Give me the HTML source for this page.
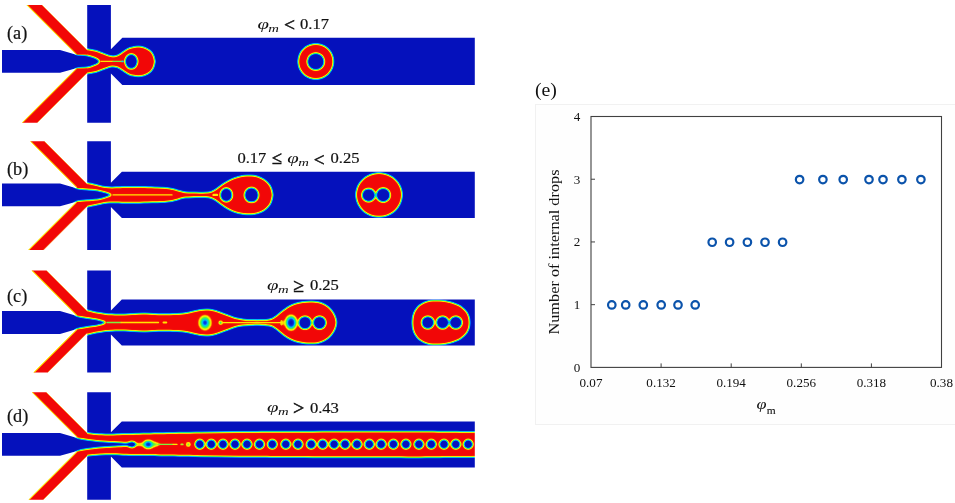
<!DOCTYPE html>
<html lang="en"><head><meta charset="utf-8"><title>Internal drops vs. flow rate ratio</title>
<style>
html,body{margin:0;padding:0;background:#fff;}
body{width:955px;height:503px;overflow:hidden;font-family:"Liberation Serif","DejaVu Serif",serif;}
svg{display:block;font-family:"Liberation Serif","DejaVu Serif",serif;}
</style></head><body>
<svg width="955" height="503" viewBox="0 0 955 503">
<defs>
<clipPath id="dom"><path d="M2,50 L60,50 L75.5,54.4 L89,54.4 L89,68.4 L75.5,68.4 L60,72.8 L2,72.8 Z"/><path d="M87.2,4.9 L110.9,4.9 L110.9,122.7 L87.2,122.7 Z"/><path d="M109.9,50.3 L122.35,37.85 L474.8,37.85 L474.8,84.95 L122.35,84.95 L109.9,72.5 Z"/><path d="M2,183.6 L60,183.6 L75.5,187.9 L89,187.9 L89,201.9 L75.5,201.9 L60,206.2 L2,206.2 Z"/><path d="M87.2,141.3 L110.9,141.3 L110.9,250 L87.2,250 Z"/><path d="M109.9,183.8 L121.9,171.8 L474.8,171.8 L474.8,218 L121.9,218 L109.9,206 Z"/><path d="M2,311.1 L60,311.1 L75.5,315.5 L89,315.5 L89,329.5 L75.5,329.5 L60,333.9 L2,333.9 Z"/><path d="M87.2,270.5 L110.9,270.5 L110.9,372.6 L87.2,372.6 Z"/><path d="M109.9,311.4 L121.8,299.5 L474.8,299.5 L474.8,345.5 L121.8,345.5 L109.9,333.6 Z"/><path d="M2,433 L60,433 L75.5,437.4 L89,437.4 L89,451.4 L75.5,451.4 L60,455.8 L2,455.8 Z"/><path d="M87.2,392.3 L110.9,392.3 L110.9,499.7 L87.2,499.7 Z"/><path d="M109.9,433.3 L121.8,421.4 L474.8,421.4 L474.8,467.4 L121.8,467.4 L109.9,455.5 Z"/></clipPath>
<clipPath id="domB"><path d="M26.5,4.9 L42,4.9 L88.1,51 L88.1,55.3 L76.9,55.3 Z"/><path d="M21.9,122.7 L37.3,122.7 L88.1,71.9 L88.1,67.5 L77.1,67.5 Z"/><path d="M30.1,141.3 L44.5,141.3 L88.1,184.9 L88.1,188.8 L77.6,188.8 Z"/><path d="M28.2,250 L43.6,250 L88.1,205.5 L88.1,201 L77.2,201 Z"/><path d="M31.5,270.5 L46.5,270.5 L88.1,312.1 L88.1,316.4 L77.4,316.4 Z"/><path d="M33.4,372.6 L47.8,372.6 L88.1,332.3 L88.1,328.6 L77.4,328.6 Z"/><path d="M31.8,392.3 L46.3,392.3 L88.1,434.1 L88.1,438.3 L77.8,438.3 Z"/><path d="M28.5,499.7 L43.3,499.7 L88.1,454.9 L88.1,450.5 L77.7,450.5 Z"/></clipPath>
<radialGradient id="rb"><stop offset="0" stop-color="#141414"/><stop offset="0.18" stop-color="#242424"/><stop offset="0.33" stop-color="#4c4c4c"/><stop offset="0.48" stop-color="#666666"/><stop offset="0.62" stop-color="#808080"/><stop offset="0.76" stop-color="#9e9e9e"/><stop offset="0.9" stop-color="#c2c2c2"/><stop offset="1" stop-color="#ffffff"/></radialGradient>
<radialGradient id="rb3"><stop offset="0" stop-color="#141414"/><stop offset="0.36" stop-color="#1f1f1f"/><stop offset="0.5" stop-color="#474747"/><stop offset="0.62" stop-color="#6b6b6b"/><stop offset="0.74" stop-color="#8a8a8a"/><stop offset="0.87" stop-color="#b2b2b2"/><stop offset="1" stop-color="#ffffff"/></radialGradient>
<radialGradient id="rb2"><stop offset="0" stop-color="#0f0f0f"/><stop offset="0.3" stop-color="#1f1f1f"/><stop offset="0.48" stop-color="#424242"/><stop offset="0.64" stop-color="#616161"/><stop offset="0.8" stop-color="#7a7a7a"/><stop offset="1" stop-color="#858585"/></radialGradient>
<filter id="jet" x="0" y="0" width="480" height="503" filterUnits="userSpaceOnUse" color-interpolation-filters="sRGB">
<feGaussianBlur stdDeviation="0.9"/>
<feComponentTransfer>
<feFuncR type="table" tableValues="0.02 0.02 0.00 0.00 0.05 0.35 0.80 1.00 1.00 0.96 0.95"/>
<feFuncG type="table" tableValues="0.07 0.09 0.30 0.72 0.90 0.95 0.97 0.92 0.50 0.08 0.03"/>
<feFuncB type="table" tableValues="0.74 0.76 0.92 1.00 0.65 0.25 0.05 0.00 0.00 0.03 0.03"/>
</feComponentTransfer>
</filter>
</defs>
<rect width="955" height="503" fill="#fff"/>
<g clip-path="url(#domB)"><g filter="url(#jet)">
<rect x="0" y="0" width="480" height="503" fill="#000"/>
<g fill="#fff"><path d="M20.7,-0.1 L41,-0.1 L91.2,50.1 L91.2,58.4 L79.2,58.4 Z"/><path d="M16.1,127.7 L36.3,127.7 L91.2,72.8 L91.2,64.4 L79.4,64.4 Z"/><path d="M24.3,136.3 L43.5,136.3 L91.2,184 L91.2,191.9 L79.9,191.9 Z"/><path d="M22.4,255 L42.6,255 L91.2,206.4 L91.2,197.9 L79.5,197.9 Z"/><path d="M25.7,265.5 L45.5,265.5 L91.2,311.2 L91.2,319.5 L79.7,319.5 Z"/><path d="M27.6,377.6 L46.8,377.6 L91.2,333.2 L91.2,325.5 L79.7,325.5 Z"/><path d="M26,387.3 L45.3,387.3 L91.2,433.2 L91.2,441.4 L80.1,441.4 Z"/><path d="M22.7,504.7 L42.3,504.7 L91.2,455.8 L91.2,447.4 L80,447.4 Z"/></g>
</g>
<g stroke="#ffe600" stroke-width="1.7" opacity="0.9"><line x1="26.5" y1="4.9" x2="76" y2="54.4"/><line x1="21.9" y1="122.7" x2="76.2" y2="68.4"/><line x1="30.1" y1="141.3" x2="76.7" y2="187.9"/><line x1="28.2" y1="250" x2="76.3" y2="201.9"/><line x1="31.5" y1="270.5" x2="76.5" y2="315.5"/><line x1="33.4" y1="372.6" x2="76.5" y2="329.5"/><line x1="31.8" y1="392.3" x2="76.9" y2="437.4"/><line x1="28.5" y1="499.7" x2="76.8" y2="451.4"/></g>
<g stroke="#ffd800" stroke-width="1.0" opacity="0.75"><line x1="42" y1="4.9" x2="87.2" y2="50.1"/><line x1="37.3" y1="122.7" x2="87.2" y2="72.8"/><line x1="44.5" y1="141.3" x2="87.2" y2="184"/><line x1="43.6" y1="250" x2="87.2" y2="206.4"/><line x1="46.5" y1="270.5" x2="87.2" y2="311.2"/><line x1="47.8" y1="372.6" x2="87.2" y2="333.2"/><line x1="46.3" y1="392.3" x2="87.2" y2="433.2"/><line x1="43.3" y1="499.7" x2="87.2" y2="455.8"/></g>
</g>
<g clip-path="url(#dom)"><g filter="url(#jet)">
<rect x="0" y="0" width="480" height="503" fill="#000"/>
<g fill="#fff"><path d="M62,54.4 L62,35.4 L80,42.3 L87,49.3 C87.83,49.42 90.25,49.68 92,50 C93.75,50.32 95.3,50.5 97.5,51.2 C99.7,51.9 102.83,53.35 105.2,54.2 C107.57,55.05 109.77,56.05 111.7,56.3 C113.63,56.55 115.08,56.3 116.8,55.7 C118.52,55.1 120.05,53.88 122,52.7 C123.95,51.52 126.67,49.52 128.5,48.6 C130.33,47.68 131.42,47.53 133,47.2 C134.58,46.87 136.17,46.57 138,46.6 C139.83,46.63 142.08,46.8 144,47.4 C145.92,48 147.95,48.95 149.5,50.2 C151.05,51.45 152.38,53.03 153.3,54.9 C154.22,56.77 154.72,60.32 155,61.4 C154.72,62.48 154.22,66.03 153.3,67.9 C152.38,69.77 151.05,71.35 149.5,72.6 C147.95,73.85 145.92,74.8 144,75.4 C142.08,76 139.83,76.17 138,76.2 C136.17,76.23 134.58,75.93 133,75.6 C131.42,75.27 130.33,75.12 128.5,74.2 C126.67,73.28 123.95,71.28 122,70.1 C120.05,68.92 118.52,67.7 116.8,67.1 C115.08,66.5 113.63,66.25 111.7,66.5 C109.77,66.75 107.57,67.75 105.2,68.6 C102.83,69.45 99.7,70.9 97.5,71.6 C95.3,72.3 93.75,72.48 92,72.8 C90.25,73.12 87.83,73.38 87,73.5 L80,80.5 L62,87.4 L62,68.4 Z"/><circle cx="315.8" cy="61.5" r="17.6" fill="#fff"/><path d="M62,187.9 L62,168.9 L80,176.7 L87,183.1 C88,183.3 90.83,183.83 93,184.3 C95.17,184.77 97.83,185.45 100,185.9 C102.17,186.35 104.17,186.75 106,187 C107.83,187.25 109,187.35 111,187.4 C113,187.45 115.67,187.37 118,187.3 C120.33,187.23 121.33,187.03 125,187 C128.67,186.97 135,187.02 140,187.1 C145,187.18 150.67,187.35 155,187.5 C159.33,187.65 162.83,187.7 166,188 C169.17,188.3 171.67,188.78 174,189.3 C176.33,189.82 178.17,190.62 180,191.1 C181.83,191.58 183,191.95 185,192.2 C187,192.45 189.5,192.52 192,192.6 C194.5,192.68 197.5,192.7 200,192.7 C202.5,192.7 205,192.8 207,192.6 C209,192.4 210.33,192.17 212,191.5 C213.67,190.83 215.17,189.83 217,188.6 C218.83,187.37 220.83,185.55 223,184.1 C225.17,182.65 227.5,181.1 230,179.9 C232.5,178.7 235.33,177.62 238,176.9 C240.67,176.18 243.33,175.8 246,175.6 C248.67,175.4 251.5,175.32 254,175.7 C256.5,176.08 258.83,176.87 261,177.9 C263.17,178.93 265.33,180.32 267,181.9 C268.67,183.48 270.03,185.23 271,187.4 C271.97,189.57 272.5,193.65 272.8,194.9 C272.5,196.15 271.97,200.23 271,202.4 C270.03,204.57 268.67,206.32 267,207.9 C265.33,209.48 263.17,210.87 261,211.9 C258.83,212.93 256.5,213.72 254,214.1 C251.5,214.48 248.67,214.4 246,214.2 C243.33,214 240.67,213.62 238,212.9 C235.33,212.18 232.5,211.1 230,209.9 C227.5,208.7 225.17,207.15 223,205.7 C220.83,204.25 218.83,202.43 217,201.2 C215.17,199.97 213.67,198.97 212,198.3 C210.33,197.63 209,197.4 207,197.2 C205,197 202.5,197.1 200,197.1 C197.5,197.1 194.5,197.12 192,197.2 C189.5,197.28 187,197.35 185,197.6 C183,197.85 181.83,198.22 180,198.7 C178.17,199.18 176.33,199.98 174,200.5 C171.67,201.02 169.17,201.5 166,201.8 C162.83,202.1 159.33,202.15 155,202.3 C150.67,202.45 145,202.62 140,202.7 C135,202.78 128.67,202.83 125,202.8 C121.33,202.77 120.33,202.57 118,202.5 C115.67,202.43 113,202.35 111,202.4 C109,202.45 107.83,202.55 106,202.8 C104.17,203.05 102.17,203.45 100,203.9 C97.83,204.35 95.17,205.03 93,205.5 C90.83,205.97 88,206.5 87,206.7 L80,213.1 L62,220.9 L62,201.9 Z"/><ellipse cx="379" cy="194.9" rx="23" ry="21.9" fill="#fff"/><path d="M62,315.5 L62,296.5 L80,304.1 L87,310.3 C88,310.53 90.83,311.25 93,311.7 C95.17,312.15 97.83,312.63 100,313 C102.17,313.37 104.17,313.68 106,313.9 C107.83,314.12 109,314.2 111,314.3 C113,314.4 115.67,314.48 118,314.5 C120.33,314.52 122.5,314.5 125,314.4 C127.5,314.3 130.17,314.05 133,313.9 C135.83,313.75 139.17,313.53 142,313.5 C144.83,313.47 147.33,313.58 150,313.7 C152.67,313.82 155.33,314.1 158,314.2 C160.67,314.3 163,314.33 166,314.3 C169,314.27 172.83,314.18 176,314 C179.17,313.82 182.17,313.62 185,313.2 C187.83,312.78 190.5,312.02 193,311.5 C195.5,310.98 197.83,310.42 200,310.1 C202.17,309.78 204,309.6 206,309.6 C208,309.6 209.83,309.68 212,310.1 C214.17,310.52 216.5,311.27 219,312.1 C221.5,312.93 224.33,314.1 227,315.1 C229.67,316.1 232.33,317.37 235,318.1 C237.67,318.83 240.17,319.17 243,319.5 C245.83,319.83 248.83,320 252,320.1 C255.17,320.2 259.17,320.2 262,320.1 C264.83,320 267.17,319.82 269,319.5 C270.83,319.18 271.67,318.87 273,318.2 C274.33,317.53 275.5,316.65 277,315.5 C278.5,314.35 280.17,312.73 282,311.3 C283.83,309.87 285.83,308.17 288,306.9 C290.17,305.63 292.5,304.53 295,303.7 C297.5,302.87 300.33,302.28 303,301.9 C305.67,301.52 308.33,301.33 311,301.4 C313.67,301.47 316.5,301.65 319,302.3 C321.5,302.95 323.92,303.98 326,305.3 C328.08,306.62 329.97,308.33 331.5,310.2 C333.03,312.07 334.35,314.45 335.2,316.5 C336.05,318.55 336.37,321.5 336.6,322.5 C336.37,323.5 336.05,326.45 335.2,328.5 C334.35,330.55 333.03,332.93 331.5,334.8 C329.97,336.67 328.08,338.38 326,339.7 C323.92,341.02 321.5,342.05 319,342.7 C316.5,343.35 313.67,343.53 311,343.6 C308.33,343.67 305.67,343.48 303,343.1 C300.33,342.72 297.5,342.13 295,341.3 C292.5,340.47 290.17,339.37 288,338.1 C285.83,336.83 283.83,335.13 282,333.7 C280.17,332.27 278.5,330.65 277,329.5 C275.5,328.35 274.33,327.47 273,326.8 C271.67,326.13 270.83,325.82 269,325.5 C267.17,325.18 264.83,325 262,324.9 C259.17,324.8 255.17,324.8 252,324.9 C248.83,325 245.83,325.17 243,325.5 C240.17,325.83 237.67,326.17 235,326.9 C232.33,327.63 229.67,328.9 227,329.9 C224.33,330.9 221.5,332.07 219,332.9 C216.5,333.73 214.17,334.48 212,334.9 C209.83,335.32 208,335.4 206,335.4 C204,335.4 202.17,335.22 200,334.9 C197.83,334.58 195.5,334.02 193,333.5 C190.5,332.98 187.83,332.22 185,331.8 C182.17,331.38 179.17,331.18 176,331 C172.83,330.82 169,330.73 166,330.7 C163,330.67 160.67,330.7 158,330.8 C155.33,330.9 152.67,331.18 150,331.3 C147.33,331.42 144.83,331.53 142,331.5 C139.17,331.47 135.83,331.25 133,331.1 C130.17,330.95 127.5,330.7 125,330.6 C122.5,330.5 120.33,330.48 118,330.5 C115.67,330.52 113,330.6 111,330.7 C109,330.8 107.83,330.88 106,331.1 C104.17,331.32 102.17,331.63 100,332 C97.83,332.37 95.17,332.85 93,333.3 C90.83,333.75 88,334.47 87,334.7 L80,340.9 L62,348.5 L62,329.5 Z"/><path d="M469.6,322.5 L469.53,324.56 L469.3,326.31 L468.93,327.95 L468.41,329.5 L467.74,330.98 L466.93,332.39 L465.98,333.73 L464.88,335.01 L463.66,336.22 L462.3,337.35 L460.82,338.41 L459.21,339.4 L457.48,340.3 L455.64,341.12 L453.69,341.86 L451.62,342.51 L449.46,343.07 L447.18,343.54 L444.8,343.92 L442.3,344.2 L439.65,344.39 L436.75,344.49 L433.85,344.49 L431.96,344.39 L430.23,344.2 L428.6,343.92 L427.04,343.54 L425.56,343.07 L424.14,342.51 L422.8,341.86 L421.52,341.12 L420.32,340.3 L419.19,339.4 L418.14,338.41 L417.17,337.35 L416.28,336.22 L415.48,335.01 L414.77,333.73 L414.15,332.39 L413.62,330.98 L413.18,329.5 L412.84,327.95 L412.6,326.31 L412.45,324.56 L412.4,322.5 L412.45,320.44 L412.6,318.69 L412.84,317.05 L413.18,315.5 L413.62,314.02 L414.15,312.61 L414.77,311.27 L415.48,309.99 L416.28,308.78 L417.17,307.65 L418.14,306.59 L419.19,305.6 L420.32,304.7 L421.52,303.88 L422.8,303.14 L424.14,302.49 L425.56,301.93 L427.04,301.46 L428.6,301.08 L430.23,300.8 L431.96,300.61 L433.85,300.51 L436.75,300.51 L439.65,300.61 L442.3,300.8 L444.8,301.08 L447.18,301.46 L449.46,301.93 L451.62,302.49 L453.69,303.14 L455.64,303.88 L457.48,304.7 L459.21,305.6 L460.82,306.59 L462.3,307.65 L463.66,308.78 L464.88,309.99 L465.98,311.27 L466.93,312.61 L467.74,314.02 L468.41,315.5 L468.93,317.05 L469.3,318.69 L469.53,320.44 Z"/><path d="M62,437.4 L62,418.4 L80,426 L87,433 C88,433.12 90.83,433.48 93,433.7 C95.17,433.92 97,434.15 100,434.3 C103,434.45 107.17,434.63 111,434.6 C114.83,434.57 118.17,434.25 123,434.1 C127.83,433.95 133.83,433.83 140,433.7 C146.17,433.57 150,433.48 160,433.3 C170,433.12 186.67,432.8 200,432.6 C213.33,432.4 226.67,432.23 240,432.1 C253.33,431.97 261.67,431.9 280,431.8 C298.33,431.7 326.67,431.57 350,431.5 C373.33,431.43 403.33,431.35 420,431.4 C436.67,431.45 440,431.67 450,431.8 C460,431.93 475,432.13 480,432.2 L480,456.6 C475,456.67 460,456.87 450,457 C440,457.13 436.67,457.35 420,457.4 C403.33,457.45 373.33,457.37 350,457.3 C326.67,457.23 298.33,457.1 280,457 C261.67,456.9 253.33,456.83 240,456.7 C226.67,456.57 213.33,456.4 200,456.2 C186.67,456 170,455.68 160,455.5 C150,455.32 146.17,455.23 140,455.1 C133.83,454.97 127.83,454.85 123,454.7 C118.17,454.55 114.83,454.23 111,454.2 C107.17,454.17 103,454.35 100,454.5 C97,454.65 95.17,454.88 93,455.1 C90.83,455.32 88,455.68 87,455.8 L80,462.8 L62,470.4 L62,451.4 Z"/><rect x="468" y="432.2" width="14" height="24.4"/></g>
<g fill="#000"><path d="M50,47.4 C51.67,47.5 57,47.5 60,48 C63,48.5 65.83,49.65 68,50.4 C70.17,51.15 71.58,51.83 73,52.5 C74.42,53.17 75.33,54.02 76.5,54.4 C77.67,54.78 78.45,54.67 80,54.8 C81.55,54.93 83.97,54.93 85.8,55.2 C87.63,55.47 89.38,55.93 91,56.4 C92.62,56.87 94.27,57.43 95.5,58 C96.73,58.57 97.75,59.23 98.4,59.8 C99.05,60.37 99.23,61.13 99.4,61.4 C99.23,61.67 99.05,62.43 98.4,63 C97.75,63.57 96.73,64.23 95.5,64.8 C94.27,65.37 92.62,65.93 91,66.4 C89.38,66.87 87.63,67.33 85.8,67.6 C83.97,67.87 81.55,67.87 80,68 C78.45,68.13 77.67,68.02 76.5,68.4 C75.33,68.78 74.42,69.63 73,70.3 C71.58,70.97 70.17,71.65 68,72.4 C65.83,73.15 63,74.3 60,74.8 C57,75.3 51.67,75.3 50,75.4 Z"/><ellipse cx="131.3" cy="61.4" rx="6.3" ry="7.4" fill="#000"/><circle cx="315.8" cy="61.5" r="8.6" fill="#000"/><path d="M50,180.9 C51.67,181 57,181 60,181.5 C63,182 65.83,183.15 68,183.9 C70.17,184.65 71.58,185.27 73,186 C74.42,186.73 75.17,187.8 76.5,188.3 C77.83,188.8 79.25,188.8 81,189 C82.75,189.2 85.17,189.37 87,189.5 C88.83,189.63 90.5,189.68 92,189.8 C93.5,189.92 94.67,190.02 96,190.2 C97.33,190.38 98.67,190.62 100,190.9 C101.33,191.18 102.75,191.55 104,191.9 C105.25,192.25 106.5,192.65 107.5,193 C108.5,193.35 109.33,193.68 110,194 C110.67,194.32 111.25,194.75 111.5,194.9 C111.25,195.05 110.67,195.48 110,195.8 C109.33,196.12 108.5,196.45 107.5,196.8 C106.5,197.15 105.25,197.55 104,197.9 C102.75,198.25 101.33,198.62 100,198.9 C98.67,199.18 97.33,199.42 96,199.6 C94.67,199.78 93.5,199.88 92,200 C90.5,200.12 88.83,200.17 87,200.3 C85.17,200.43 82.75,200.6 81,200.8 C79.25,201 77.83,201 76.5,201.5 C75.17,202 74.42,203.07 73,203.8 C71.58,204.53 70.17,205.15 68,205.9 C65.83,206.65 63,207.8 60,208.3 C57,208.8 51.67,208.8 50,208.9 Z"/><ellipse cx="226.3" cy="194.9" rx="6.1" ry="6.9" fill="#000"/><ellipse cx="251.5" cy="194.9" rx="7.1" ry="7.4" fill="#000"/><circle cx="368.6" cy="195.1" r="6.7" fill="#000"/><circle cx="383.2" cy="195.1" r="7.1" fill="#000"/><path d="M50,308.5 C51.67,308.6 57,308.6 60,309.1 C63,309.6 65.83,310.75 68,311.5 C70.17,312.25 71.58,312.85 73,313.6 C74.42,314.35 75.17,315.43 76.5,316 C77.83,316.57 79.25,316.67 81,317 C82.75,317.33 85.17,317.72 87,318 C88.83,318.28 90.5,318.48 92,318.7 C93.5,318.92 94.67,319.05 96,319.3 C97.33,319.55 98.83,319.9 100,320.2 C101.17,320.5 102.17,320.82 103,321.1 C103.83,321.38 104.52,321.67 105,321.9 C105.48,322.13 105.75,322.4 105.9,322.5 C105.75,322.6 105.48,322.87 105,323.1 C104.52,323.33 103.83,323.62 103,323.9 C102.17,324.18 101.17,324.5 100,324.8 C98.83,325.1 97.33,325.45 96,325.7 C94.67,325.95 93.5,326.08 92,326.3 C90.5,326.52 88.83,326.72 87,327 C85.17,327.28 82.75,327.67 81,328 C79.25,328.33 77.83,328.43 76.5,329 C75.17,329.57 74.42,330.65 73,331.4 C71.58,332.15 70.17,332.75 68,333.5 C65.83,334.25 63,335.4 60,335.9 C57,336.4 51.67,336.4 50,336.5 Z"/><circle cx="305" cy="322.7" r="6.5" fill="#000"/><circle cx="319.5" cy="322.7" r="6.5" fill="#000"/><circle cx="427.8" cy="322.5" r="6.3" fill="#000"/><circle cx="442.6" cy="322.5" r="6.3" fill="#000"/><circle cx="455.8" cy="322.5" r="6.3" fill="#000"/><path d="M50,430.4 C51.67,430.5 57,430.5 60,431 C63,431.5 65.83,432.65 68,433.4 C70.17,434.15 71.58,434.83 73,435.5 C74.42,436.17 75.17,436.85 76.5,437.4 C77.83,437.95 79.25,438.4 81,438.8 C82.75,439.2 84.67,439.47 87,439.8 C89.33,440.13 92.33,440.5 95,440.8 C97.67,441.1 100.33,441.38 103,441.6 C105.67,441.82 108.17,441.95 111,442.1 C113.83,442.25 117.5,442.4 120,442.5 C122.5,442.6 124.58,442.72 126,442.7 C127.42,442.68 127.75,442.58 128.5,442.4 C129.25,442.22 129.83,441.77 130.5,441.6 C131.17,441.43 131.83,441.33 132.5,441.4 C133.17,441.47 133.92,441.68 134.5,442 C135.08,442.32 135.62,442.9 136,443.3 C136.38,443.7 136.67,444.22 136.8,444.4 C136.67,444.58 136.38,445.1 136,445.5 C135.62,445.9 135.08,446.48 134.5,446.8 C133.92,447.12 133.17,447.33 132.5,447.4 C131.83,447.47 131.17,447.37 130.5,447.2 C129.83,447.03 129.25,446.58 128.5,446.4 C127.75,446.22 127.42,446.12 126,446.1 C124.58,446.08 122.5,446.2 120,446.3 C117.5,446.4 113.83,446.55 111,446.7 C108.17,446.85 105.67,446.98 103,447.2 C100.33,447.42 97.67,447.7 95,448 C92.33,448.3 89.33,448.67 87,449 C84.67,449.33 82.75,449.6 81,450 C79.25,450.4 77.83,450.85 76.5,451.4 C75.17,451.95 74.42,452.63 73,453.3 C71.58,453.97 70.17,454.65 68,455.4 C65.83,456.15 63,457.3 60,457.8 C57,458.3 51.67,458.3 50,458.4 Z"/><circle cx="199.8" cy="444.3" r="4.7" fill="#000"/><circle cx="211.3" cy="444.3" r="4.7" fill="#000"/><circle cx="223" cy="444.3" r="4.7" fill="#000"/><circle cx="235" cy="444.3" r="4.7" fill="#000"/><circle cx="247" cy="444.3" r="4.7" fill="#000"/><circle cx="259.5" cy="444.3" r="4.7" fill="#000"/><circle cx="272.3" cy="444.3" r="4.7" fill="#000"/><circle cx="285.8" cy="444.3" r="4.7" fill="#000"/><circle cx="298" cy="444.3" r="4.7" fill="#000"/><circle cx="311.2" cy="444.3" r="4.7" fill="#000"/><circle cx="322.7" cy="444.3" r="4.7" fill="#000"/><circle cx="334.1" cy="444.3" r="4.7" fill="#000"/><circle cx="345.1" cy="444.3" r="4.7" fill="#000"/><circle cx="357" cy="444.3" r="4.7" fill="#000"/><circle cx="369.3" cy="444.3" r="4.7" fill="#000"/><circle cx="381.2" cy="444.3" r="4.7" fill="#000"/><circle cx="393.4" cy="444.3" r="4.7" fill="#000"/><circle cx="405.9" cy="444.3" r="4.7" fill="#000"/><circle cx="418.9" cy="444.3" r="4.7" fill="#000"/><circle cx="431.3" cy="444.3" r="4.7" fill="#000"/><circle cx="444" cy="444.3" r="4.7" fill="#000"/><circle cx="455.8" cy="444.3" r="4.7" fill="#000"/><circle cx="468.2" cy="444.3" r="4.7" fill="#000"/></g>
<line x1="100.5" y1="61.4" x2="122.5" y2="61.4" stroke="#bfbfbf" stroke-width="1" stroke-linecap="round"/><line x1="113" y1="194.9" x2="172" y2="194.9" stroke="#bfbfbf" stroke-width="1" stroke-linecap="round"/><line x1="107" y1="322.5" x2="158.5" y2="322.5" stroke="#bfbfbf" stroke-width="1" stroke-linecap="round"/><line x1="221" y1="322.7" x2="282" y2="322.7" stroke="#c7c7c7" stroke-width="1" stroke-linecap="round"/><circle cx="220.6" cy="322.7" r="1.6" fill="#1a1a1a"/><ellipse cx="284" cy="322.7" rx="1.6" ry="2.8" fill="#8c8c8c"/><ellipse cx="205" cy="322.7" rx="7.4" ry="8.6" fill="url(#rb)"/><ellipse cx="291.1" cy="322.7" rx="7.2" ry="9.0" fill="url(#rb3)"/><line x1="136" y1="444.4" x2="142" y2="444.4" stroke="#6b6b6b" stroke-width="2" stroke-linecap="round"/><path d="M139.5,444.4 L146,440.8 L151,440.8 L161,444.1 L161,444.7 L151,448 L146,448 Z" fill="#808080"/><ellipse cx="148.3" cy="444.4" rx="6.0" ry="4.7" fill="url(#rb2)"/><line x1="158" y1="444.4" x2="177" y2="444.4" stroke="#b8b8b8" stroke-width="1" stroke-linecap="round"/><circle cx="188.3" cy="444.4" r="2.9" fill="#c7c7c7"/>
</g>
<line x1="101" y1="61.4" x2="113" y2="61.4" stroke="#ffe600" stroke-width="1.3" stroke-linecap="round" opacity="1"/><line x1="113" y1="61.4" x2="121.5" y2="61.4" stroke="#7df23c" stroke-width="1.3" stroke-linecap="round" opacity="1"/><line x1="122.2" y1="61.4" x2="123" y2="61.4" stroke="#19d8d0" stroke-width="1.8" stroke-linecap="round" opacity="1"/><line x1="113" y1="194.9" x2="172" y2="194.9" stroke="#ffe600" stroke-width="1.3" stroke-linecap="round" opacity="1"/><line x1="213.6" y1="194.9" x2="217" y2="194.9" stroke="#ffe600" stroke-width="2.4" stroke-linecap="round" opacity="1"/><line x1="107" y1="322.5" x2="121" y2="322.5" stroke="#7df23c" stroke-width="1.4" stroke-linecap="round" opacity="1"/><line x1="121" y1="322.5" x2="158.5" y2="322.5" stroke="#ffe600" stroke-width="1.3" stroke-linecap="round" opacity="1"/><line x1="163.6" y1="322.5" x2="166.2" y2="322.5" stroke="#ffe600" stroke-width="2.2" stroke-linecap="round" opacity="1"/><line x1="222" y1="322.7" x2="282" y2="322.7" stroke="#ffe600" stroke-width="1.2" stroke-linecap="round" opacity="1"/><ellipse cx="281.6" cy="322.7" rx="1.5" ry="2.8" fill="#ffe600" opacity="0.9"/><line x1="158" y1="444.4" x2="173" y2="444.4" stroke="#7df23c" stroke-width="1.3" stroke-linecap="round" opacity="1"/><line x1="173" y1="444.4" x2="177" y2="444.4" stroke="#ffe600" stroke-width="1.2" stroke-linecap="round" opacity="1"/><line x1="181.2" y1="444.4" x2="182.8" y2="444.4" stroke="#b8ef20" stroke-width="1.7" stroke-linecap="round" opacity="1"/><circle cx="188.3" cy="444.4" r="2.3" fill="#ffe600"/><circle cx="188.3" cy="444.4" r="0.9" fill="#7df23c"/>
</g>
<rect x="535.5" y="104.5" width="430" height="320" fill="#fefefe" stroke="#f1f1f1" stroke-width="1"/><rect x="591" y="116.5" width="350.5" height="250.9" fill="#fff" stroke="#404040" stroke-width="1.1"/><path d="M591,304.67 h4 M591,241.95 h4 M591,179.22 h4 M661.1,367.4 v-4 M731.2,367.4 v-4 M801.3,367.4 v-4 M871.4,367.4 v-4" stroke="#404040" stroke-width="1" fill="none"/><g fill="none" stroke="#0b53ab" stroke-width="2.2"><circle cx="611.8" cy="304.97" r="3.75"/><circle cx="625.7" cy="304.97" r="3.75"/><circle cx="643.3" cy="304.97" r="3.75"/><circle cx="661.2" cy="304.97" r="3.75"/><circle cx="678" cy="304.97" r="3.75"/><circle cx="695.2" cy="304.97" r="3.75"/><circle cx="712.2" cy="242.25" r="3.75"/><circle cx="729.6" cy="242.25" r="3.75"/><circle cx="747.4" cy="242.25" r="3.75"/><circle cx="765" cy="242.25" r="3.75"/><circle cx="782.6" cy="242.25" r="3.75"/><circle cx="799.6" cy="179.53" r="3.75"/><circle cx="822.9" cy="179.53" r="3.75"/><circle cx="843.2" cy="179.53" r="3.75"/><circle cx="869" cy="179.53" r="3.75"/><circle cx="883" cy="179.53" r="3.75"/><circle cx="901.9" cy="179.53" r="3.75"/><circle cx="920.9" cy="179.53" r="3.75"/></g><g font-size="13.1" fill="#111"><text x="580.2" y="371.7" text-anchor="end">0</text><text x="580.2" y="308.97" text-anchor="end">1</text><text x="580.2" y="246.25" text-anchor="end">2</text><text x="580.2" y="183.53" text-anchor="end">3</text><text x="580.2" y="120.8" text-anchor="end">4</text><text x="591" y="387.3" text-anchor="middle">0.07</text><text x="661.1" y="387.3" text-anchor="middle">0.132</text><text x="731.2" y="387.3" text-anchor="middle">0.194</text><text x="801.3" y="387.3" text-anchor="middle">0.256</text><text x="871.4" y="387.3" text-anchor="middle">0.318</text><text x="941.5" y="387.3" text-anchor="middle">0.38</text></g><text transform="translate(558.8,252) rotate(-90) scale(1.065,1)" text-anchor="middle" font-size="15.3" fill="#111">Number of internal drops</text><g fill="#111" stroke="#111"><text transform="translate(756.4,409.1) scale(1.25,1)" font-size="14.5" font-style="italic" stroke-width="0">φ</text><text transform="translate(766.7,413.7) scale(1.1,1)" font-size="10.4" stroke-width="0.1">m</text></g><text x="535" y="96.1" font-size="19.8" fill="#111">(e)</text>
<g fill="#111" stroke="#111" stroke-width="0.2"><text x="7.0" y="39.2" font-size="18.3">(a)</text><text x="7.0" y="174.5" font-size="18.3">(b)</text><text x="7.0" y="302" font-size="18.3">(c)</text><text x="7.0" y="422.3" font-size="18.3">(d)</text><text transform="translate(257.4,28.5) scale(1.34,1)" font-size="15.5" font-style="italic" stroke-width="0">φ</text><text transform="translate(268.3,31.6) scale(1.4,1)" font-size="10.5" font-style="italic" stroke-width="0">m</text><text transform="translate(283.9,31.3) scale(1,1)" font-size="19.5" stroke-width="0.5">&lt;</text><text transform="translate(300,28.6) scale(1.12,1)" font-size="14.8" stroke-width="0.2">0.17</text><text transform="translate(237.4,163.2) scale(1.12,1)" font-size="14.8" stroke-width="0.2">0.17</text><text transform="translate(271.8,163.9) scale(1,1)" font-size="18.3" stroke-width="0.5">≤</text><text transform="translate(287.3,163.2) scale(1.34,1)" font-size="15.5" font-style="italic" stroke-width="0">φ</text><text transform="translate(298.3,166.4) scale(1.4,1)" font-size="10.5" font-style="italic" stroke-width="0">m</text><text transform="translate(313.8,165.8) scale(1,1)" font-size="19.2" stroke-width="0.5">&lt;</text><text transform="translate(330.5,163.2) scale(1.12,1)" font-size="14.8" stroke-width="0.2">0.25</text><text transform="translate(267.1,290) scale(1.34,1)" font-size="15.5" font-style="italic" stroke-width="0">φ</text><text transform="translate(278,293.2) scale(1.4,1)" font-size="10.5" font-style="italic" stroke-width="0">m</text><text transform="translate(293.3,292) scale(1,1)" font-size="19.5" stroke-width="0.5">≥</text><text transform="translate(309.9,290.4) scale(1.12,1)" font-size="14.8" stroke-width="0.2">0.25</text><text transform="translate(267.1,412) scale(1.34,1)" font-size="15.5" font-style="italic" stroke-width="0">φ</text><text transform="translate(278,415.4) scale(1.4,1)" font-size="10.5" font-style="italic" stroke-width="0">m</text><text transform="translate(293.1,415.3) scale(1,1)" font-size="20" stroke-width="0.5">&gt;</text><text transform="translate(309.9,412.6) scale(1.12,1)" font-size="14.8" stroke-width="0.2">0.43</text></g>
</svg>
</body></html>
